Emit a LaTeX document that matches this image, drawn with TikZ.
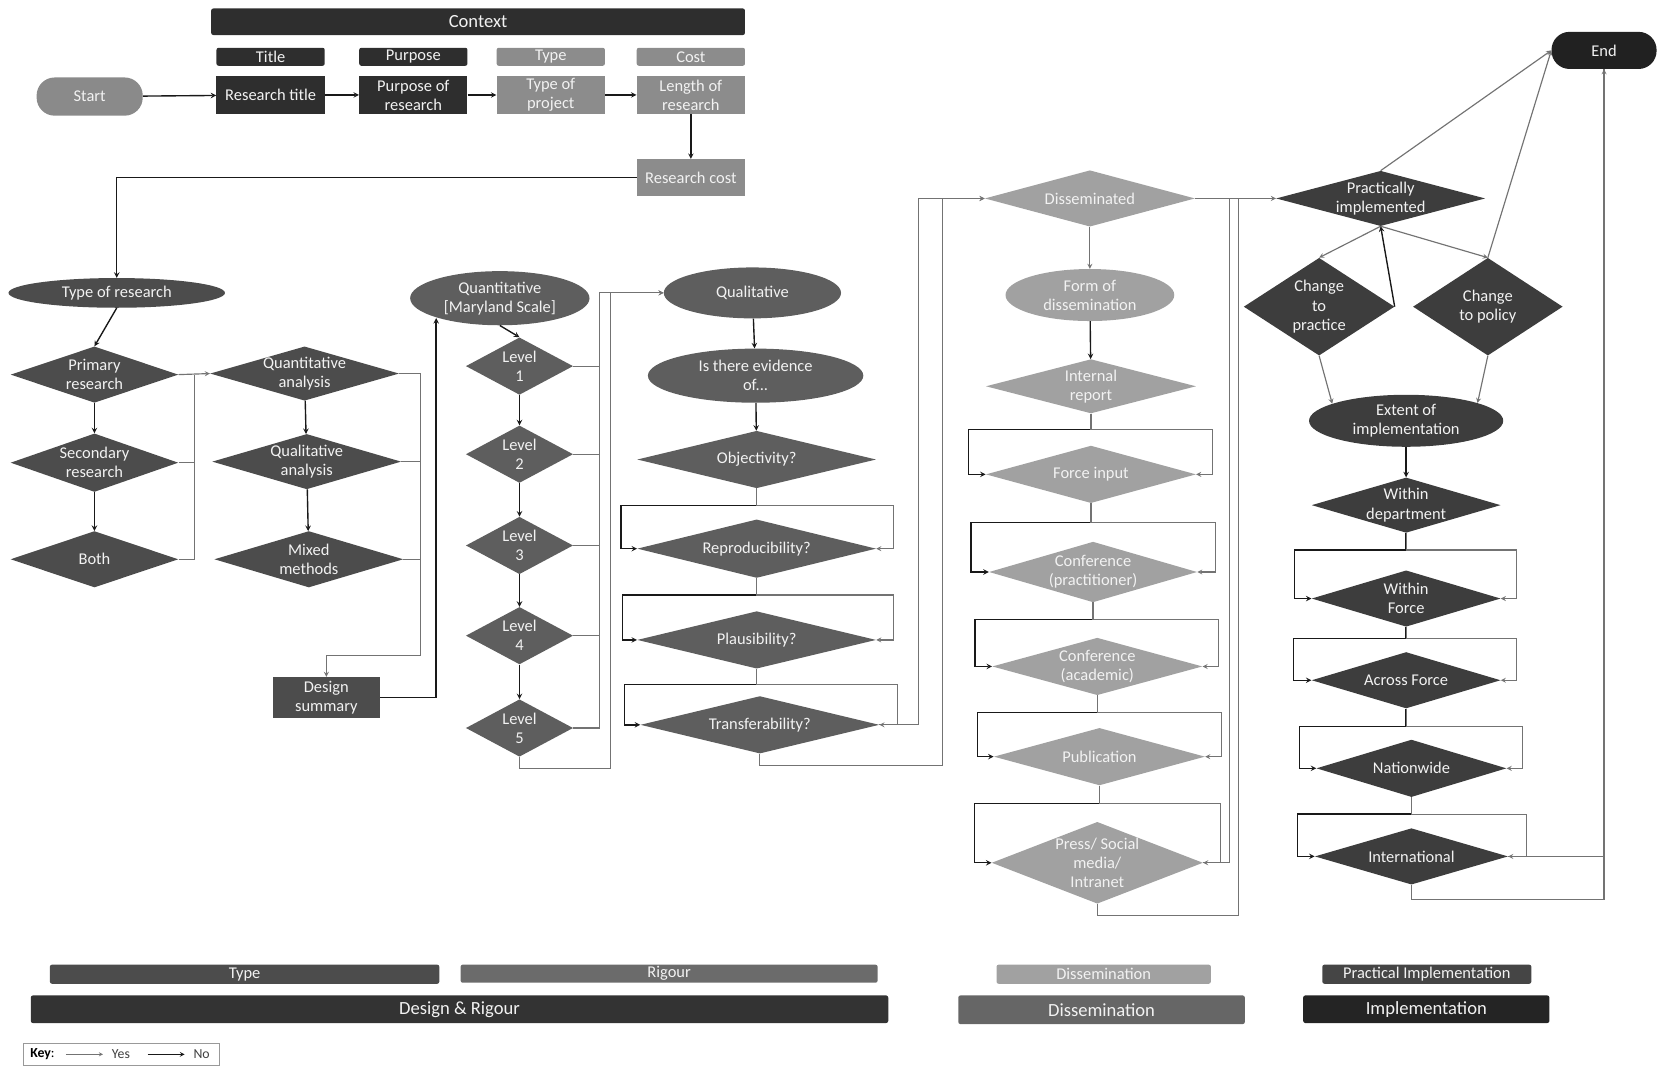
\documentclass[tikz,border=0pt]{standalone}
\usepackage{fontspec}
\setmainfont{Carlito}
\usetikzlibrary{positioning,shapes.geometric}

\begin{document}
\begin{tikzpicture}[x=1pt,y=-1pt,on grid,>=stealth,
      txt/.style={text=white!95!black,align=center,font=\fontsize{15.5}{18}\selectfont},
      bigtxt/.style={font=\fontsize{17.5}{20}\selectfont},
      box/.style={rectangle,txt,inner sep=0pt,minimum width=102pt,minimum height=36pt},
      tag/.style={rectangle,rounded corners=2pt,txt,inner sep=0pt,minimum width=102pt,minimum height=17pt},
      pill/.style={rectangle,rounded corners=17pt,txt,minimum width=100pt,minimum height=36pt},
      oval/.style={ellipse,txt,inner sep=0pt},
      dmd/.style={diamond,inner sep=0pt},
      noln/.style={black!90,line width=1.3pt},
      noarr/.style={noln,->},
      yesln/.style={black!55,line width=1.1pt},
      yesarr/.style={yesln,->}]

      \useasboundingbox (0,0) rectangle (1568,1011);

      % context
      \node[tag,bigtxt,fill=black!82,minimum width=503pt,minimum height=25pt] (ctx) at (450.5,20.5) {Context};
      \node[tag,fill=black!82] (htitle) at (255,53.5) {Title};
      \node[tag,fill=black!82] (hpurp) at (389.5,53.5) {Purpose};
      \node[tag,fill=black!45] (htype) at (519,53.5) {Type};
      \node[tag,fill=black!45] (hcost) at (651,53.5) {Cost};
      \node[pill,fill=black!46] (start) at (84.5,91) {Start};
      \node[box,fill=black!82] (rtitle) [below=36pt of htitle] {Research title};
      \node[box,fill=black!82] (rpurp) [below=36pt of hpurp] {Purpose of\\research};
      \node[box,fill=black!45] (rtype) [below=36pt of htype] {Type of\\project};
      \node[box,fill=black!45] (rlen) [below=36pt of hcost] {Length of\\research};
      \node[box,fill=black!45,minimum height=35pt] (rcost) [below=78pt of rlen] {Research cost};

      % type
      \node[oval,fill=black!70,minimum width=204pt,minimum height=28pt] (tres) at (110,276) {Type of research};
      \node[dmd,fill=black!70,minimum width=158pt,minimum height=53pt,
        label={[txt]center:Primary\\research}] (prim) at (89,353) {};
      \node[dmd,fill=black!70,minimum width=158pt,minimum height=55pt,
        label={[txt]center:Secondary\\research}] (seco) [below=83pt of prim] {};
      \node[dmd,fill=black!70,minimum width=158pt,minimum height=53pt,
        label={[txt]center:Both}] (both) [below=91pt of seco] {};
      \node[dmd,fill=black!70,minimum width=178pt,minimum height=51pt,
        label={[txt]center:Quantitative\\analysis}] (qana) at (287,352) {};
      \node[dmd,fill=black!70,minimum width=178pt,minimum height=52pt,
        label={[txt]center:Qualitative\\analysis}] (qlana) at (289,435) {};
      \node[dmd,fill=black!70,minimum width=178pt,minimum height=53pt,
        label={[txt]center:Mixed\\methods}] (mixd) at (291,527) {};
      \node[box,fill=black!70,minimum width=101pt,minimum height=39pt] (dsum) at (307.5,657.5) {Design\\summary};

      % rigour
      \node[oval,fill=black!63,minimum width=169pt,minimum height=51pt] (quant) at (471,281) {Quantitative\\{[Maryland Scale]}};
      \node[dmd,fill=black!63,minimum width=101pt,minimum height=54pt,
        label={[txt]center:Level\\1}] (lv1) at (489.5,345) {};
      \node[dmd,fill=black!63,minimum width=101pt,minimum height=54pt,
        label={[txt]center:Level\\2}] (lv2) [below=83pt of lv1] {};
      \node[dmd,fill=black!63,minimum width=101pt,minimum height=54pt,
        label={[txt]center:Level\\3}] (lv3) [below=86pt of lv2] {};
      \node[dmd,fill=black!63,minimum width=101pt,minimum height=54pt,
        label={[txt]center:Level\\4}] (lv4) [below=85pt of lv3] {};
      \node[dmd,fill=black!63,minimum width=101pt,minimum height=54pt,
        label={[txt]center:Level\\5}] (lv5) [below=87pt of lv4] {};
      \node[oval,fill=black!63,minimum width=167pt,minimum height=48pt] (qual) at (709,276) {Qualitative};
      \node[oval,fill=black!63,minimum width=203pt,minimum height=51pt] (evid) at (712,354) {Is there evidence\\of...};
      \node[dmd,fill=black!63,minimum width=225pt,minimum height=54pt,
        label={[txt]center:Objectivity?}] (obj) at (713,433) {};
      \node[dmd,fill=black!63,minimum width=225pt,minimum height=55pt,
        label={[txt]center:Reproducibility?}] (repr) [below=84pt of obj] {};
      \node[dmd,fill=black!63,minimum width=225pt,minimum height=54pt,
        label={[txt]center:Plausibility?}] (plaus) [below=86pt of repr] {};
      \node[dmd,fill=black!63,minimum width=225pt,minimum height=54pt,
        label={[txt]center:Transferability?}] (trans) at (716,683) {};

      % dissemination
      \node[dmd,fill=black!37,minimum width=198pt,minimum height=53pt,
        label={[txt]center:Disseminated}] (diss) at (1027,187) {};
      \node[oval,fill=black!37,minimum width=159pt,minimum height=49pt] (form) at (1027,278) {Form of\\dissemination};
      \node[dmd,fill=black!37,minimum width=198pt,minimum height=51pt,
        label={[txt]center:Internal\\report}] (intr) at (1028,364) {};
      \node[dmd,fill=black!37,minimum width=198pt,minimum height=54pt,
        label={[txt]center:Force input}] (finp) at (1028,447) {};
      \node[dmd,fill=black!37,minimum width=196pt,minimum height=57pt,
        label={[txt]center:Conference\\(practitioner)}] (cprac) at (1030,539) {};
      \node[dmd,fill=black!37,minimum width=198pt,minimum height=54pt,
        label={[txt]center:Conference\\(academic)}] (cacad) at (1034,628) {};
      \node[dmd,fill=black!37,minimum width=199pt,minimum height=54pt,
        label={[txt]center:Publication}] (publ) at (1036,713) {};
      \node[dmd,fill=black!37,minimum width=199pt,minimum height=77pt,
        label={[txt]center:Press/ Social\\media/\\Intranet}] (press) at (1034,813) {};

      % implementation
      \node[pill,fill=black!87,minimum width=99pt,minimum height=35pt] (endn) at (1511.5,47.5) {End};
      \node[dmd,fill=black!76,minimum width=197pt,minimum height=52pt,
        label={[txt]center:Practically\\implemented}] (pimp) at (1301,187) {};
      \node[dmd,fill=black!76,minimum width=142pt,minimum height=92pt,
        label={[txt]center:Change\\to\\practice}] (chpr) at (1243,289) {};
      \node[dmd,fill=black!76,minimum width=141pt,minimum height=92pt,
        label={[txt]center:Change\\to policy}] (chpo) at (1402,289) {};
      \node[oval,fill=black!76,minimum width=183pt,minimum height=49pt] (extn) at (1325,396.5) {Extent of\\implementation};
      \node[dmd,fill=black!76,minimum width=178pt,minimum height=52pt,
        label={[txt]center:Within\\department}] (wdep) at (1325,476) {};
      \node[dmd,fill=black!76,minimum width=178pt,minimum height=53pt,
        label={[txt]center:Within\\Force}] (wfor) [below=88pt of wdep] {};
      \node[dmd,fill=black!76,minimum width=178pt,minimum height=53pt,
        label={[txt]center:Across Force}] (afor) [below=77pt of wfor] {};
      \node[dmd,fill=black!76,minimum width=179pt,minimum height=54pt,
        label={[txt]center:Nationwide}] (natw) at (1330,724) {};
      \node[dmd,fill=black!76,minimum width=182pt,minimum height=53pt,
        label={[txt]center:International}] (intl) at (1330,807) {};

      % bars
      \node[tag,fill=black!70,minimum width=367pt,minimum height=18pt] (btype) at (230.5,918) {Type};
      \node[tag,fill=black!58,minimum width=393pt] (brig) at (630.5,917.5) {Rigour};
      \node[tag,bigtxt,fill=black!80,minimum width=808pt,minimum height=26pt] (bdes) at (433,951) {Design \& Rigour};
      \node[tag,fill=black!37,minimum width=202pt,minimum height=18pt] (bdis) at (1040,918) {Dissemination};
      \node[tag,bigtxt,fill=black!60,minimum width=270pt,minimum height=27pt] (bdis2) at (1038,951.5) {Dissemination};
      \node[tag,fill=black!73,minimum width=197pt,minimum height=18pt] (bprac) at (1344.5,918) {Practical Implementation};
      \node[tag,bigtxt,fill=black!86,minimum width=232pt,minimum height=26pt] (bimp) at (1344,951) {Implementation};

      % key
      \node[draw=black!40,fill=white,minimum width=185pt,minimum height=21pt,inner sep=0pt] (key) at (114.5,993.5) {};
      \node[anchor=west,font=\fontsize{13}{15}\selectfont] (keyl) at (25,993.5) {\textbf{Key}:};
      \coordinate (ya) at (62,993.5);
      \coordinate (yb) at (97,993.5);
      \node[font=\fontsize{13}{15}\selectfont,text=black!75] (yest) at (114,993.5) {Yes};
      \coordinate (na) at (139,993.5);
      \coordinate (nb) at (174,993.5);
      \node[font=\fontsize{13}{15}\selectfont,text=black!75] (not) at (190,993.5) {No};
      \draw[yesarr,line width=0.7pt] (ya) -- (yb);
      \draw[noarr,line width=1pt] (na) -- (nb);

      % context flow
      \draw[noarr] (start) -- (rtitle);
      \draw[noarr] (rtitle) -- (rpurp);
      \draw[noarr] (rpurp) -- (rtype);
      \draw[noarr] (rtype) -- (rlen);
      \draw[noarr] (rlen) -- (rcost);
      \draw[noarr] (rcost.west) -| (tres.north);

      % type flow
      \draw[noarr] (tres.south) -- (prim.north);
      \draw[noarr] (prim) -- (seco);
      \draw[noarr] (seco) -- (both);
      \draw[yesarr] (prim.east) -- (qana.west);
      \draw[yesln] (seco.east) -| ([xshift=15pt]prim.east);
      \draw[yesln] (both.east) -| ([xshift=15pt]prim.east);
      \draw[noarr] (qana) -- (qlana);
      \draw[noarr] (qlana) -- (mixd);
      \draw[yesarr] (qana.east) -- ++(20,0) |- ([yshift=20pt]dsum.north) -- (dsum.north);
      \draw[yesln] (qlana.east) -- ++(18,0);
      \draw[yesln] (mixd.east) -- ++(16,0);
      \draw[noarr] (dsum.east) -| ([xshift=-60pt,yshift=7pt]quant.south);

      % rigour flow
      \draw[noarr] (quant.south) -- (lv1.north);
      \draw[noarr] (lv1) -- (lv2);
      \draw[noarr] (lv2) -- (lv3);
      \draw[noarr] (lv3) -- (lv4);
      \draw[noarr] (lv4) -- (lv5);
      \draw[yesarr] (lv1.east) -- ++(25,0) |- (qual.west);
      \draw[yesln] (lv2.east) -| ([xshift=25pt]lv1.east);
      \draw[yesln] (lv3.east) -| ([xshift=25pt]lv1.east);
      \draw[yesln] (lv4.east) -| ([xshift=25pt]lv1.east);
      \draw[yesln] (lv5.east) -| ([xshift=25pt]lv1.east);
      \draw[yesarr] (lv5.south) -- ++(0,11) -| ([xshift=-50pt]qual.west) -- (qual.west);
      \draw[noarr] (qual) -- (evid);
      \draw[noarr] (evid) -- (obj);
      \draw[noarr] (obj.south) -- ++(0,16) -| ([xshift=-15pt]repr.west) -- (repr.west);
      \draw[yesarr] (obj.south) -- ++(0,16) -| ([xshift=16pt]repr.east) -- (repr.east);
      \draw[noarr] (repr.south) -- ++(0,16) -| ([xshift=-14pt]plaus.west) -- (plaus.west);
      \draw[yesarr] (repr.south) -- ++(0,16) -| ([xshift=16pt]plaus.east) -- (plaus.east);
      \draw[noarr] (plaus.south) -- ++(0,15) -| ([xshift=-15pt]trans.west) -- (trans.west);
      \draw[yesarr] (plaus.south) -- ++(0,15) -| ([xshift=17pt]trans.east) -- (trans.east);
      \draw[yesarr] (trans.south) -- ++(0,11) -| ([xshift=-40pt]diss.west) -- (diss.west);
      \draw[yesarr] (trans.east) -| ([xshift=-62pt]diss.west) -- (diss.west);

      % dissemination flow
      \draw[yesarr] (diss) -- (form);
      \draw[noarr] (form) -- (intr);
      \draw[noarr] (intr.south) -- ++(0,15) -| ([xshift=-16pt]finp.west) -- (finp.west);
      \draw[yesarr] (intr.south) -- ++(0,15) -| ([xshift=15pt]finp.east) -- (finp.east);
      \draw[noarr] (finp.south) -- ++(0,18) -| ([xshift=-17pt]cprac.west) -- (cprac.west);
      \draw[yesarr] (finp.south) -- ++(0,18) -| ([xshift=17pt]cprac.east) -- (cprac.east);
      \draw[noarr] (cprac.south) -- ++(0,16) -| ([xshift=-16pt]cacad.west) -- (cacad.west);
      \draw[yesarr] (cprac.south) -- ++(0,16) -| ([xshift=15pt]cacad.east) -- (cacad.east);
      \draw[noarr] (cacad.south) -- ++(0,16) -| ([xshift=-15pt]publ.west) -- (publ.west);
      \draw[yesarr] (cacad.south) -- ++(0,16) -| ([xshift=15pt]publ.east) -- (publ.east);
      \draw[noarr] (publ.south) -- ++(0,17) -| ([xshift=-16pt]press.west) -- (press.west);
      \draw[yesarr] (publ.south) -- ++(0,17) -| ([xshift=16pt]press.east) -- (press.east);
      \draw[yesarr] (diss.east) -- (pimp.west);
      \draw[yesln] (press.east) -| ([xshift=-44pt]pimp.west);
      \draw[yesln] (press.south) -- ++(0,11) -| ([xshift=-35pt]pimp.west);

      % implementation flow
      \draw[yesarr] (pimp.north) -- (endn.west);
      \draw[yesarr] (pimp.south) -- (chpr.north);
      \draw[yesarr] (pimp.south) -- (chpo.north);
      \draw[noarr] (chpr.east) -- (pimp.south);
      \draw[yesarr] (chpo.north) -- (endn.west);
      \draw[yesarr] (chpr.south) -- (extn.167);
      \draw[yesarr] (chpo.south) -- (extn.14);
      \draw[noarr] (extn) -- (wdep);
      \draw[noarr] (wdep.south) -- ++(0,16) -| ([xshift=-16pt]wfor.west) -- (wfor.west);
      \draw[yesarr] (wdep.south) -- ++(0,16) -| ([xshift=15pt]wfor.east) -- (wfor.east);
      \draw[noarr] (wfor.south) -- ++(0,11) -| ([xshift=-17pt]afor.west) -- (afor.west);
      \draw[yesarr] (wfor.south) -- ++(0,11) -| ([xshift=15pt]afor.east) -- (afor.east);
      \draw[noarr] (afor.south) -- ++(0,17) -| ([xshift=-16pt]natw.west) -- (natw.west);
      \draw[yesarr] (afor.south) -- ++(0,17) -| ([xshift=15pt]natw.east) -- (natw.east);
      \draw[noarr] (natw.south) -- ++(0,16) -| ([xshift=-16pt]intl.west) -- (intl.west);
      \draw[yesarr] (natw.south) -- ++(0,16) -| ([xshift=17pt]intl.east) -- (intl.east);
      \draw[yesarr] (intl.east) -| (endn.south);
      \draw[yesln] (intl.south) -- ++(0,14) -| (endn.south);
\end{tikzpicture}
\end{document}
